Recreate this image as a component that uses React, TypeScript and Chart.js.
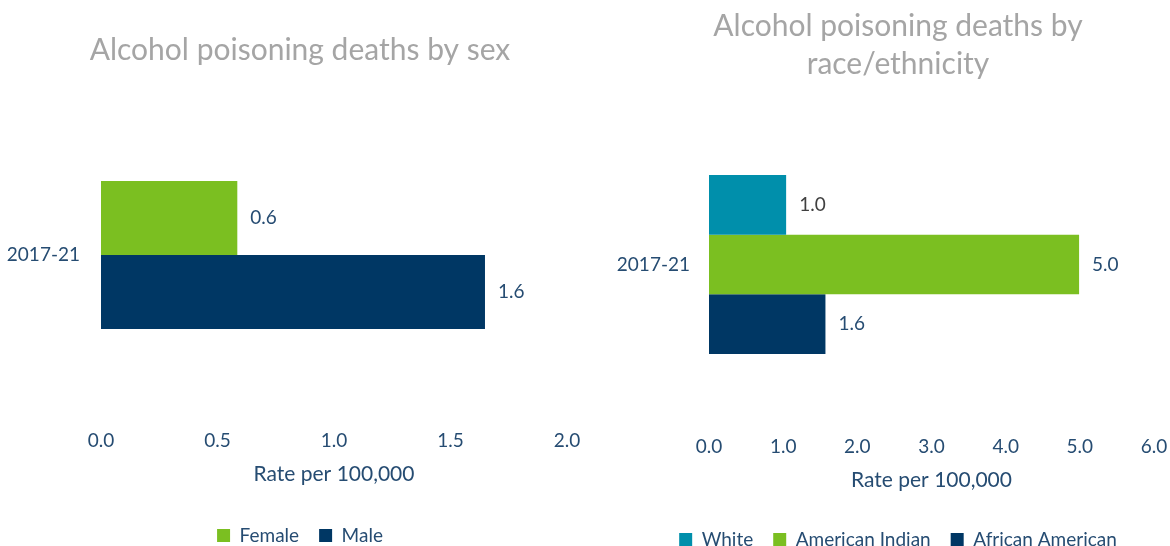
import React, { useEffect, useRef } from "react";
import { Chart, registerables } from "chart.js";

Chart.register(...registerables);

// ---- data ----
const periodLabels = ["2017-21"];

const sexSeries = ["Female", "Male"];
const sexValues = [0.585, 1.648];
const sexColors = ["#7BBF21", "#003764"];
const sexLabelColors = ["#264C72", "#264C72"];

const raceSeries = ["White", "American Indian", "African American"];
const raceValues = [1.04, 4.99, 1.57];
const raceColors = ["#008FAB", "#7BBF21", "#003764"];
const raceLabelColors = ["#404040", "#264C72", "#264C72"];

const sexAxisMax = 2;
const sexAxisStep = 0.5;
const raceAxisMax = 6;
const raceAxisStep = 1;

const sexTitle = "Alcohol poisoning deaths by sex";
const raceTitle = ["Alcohol poisoning deaths by", "race/ethnicity"];
const axisTitle = "Rate per 100,000";

// ---- styles ----
const FONT = "Lato, 'Open Sans', sans-serif";
const TEXT = "#264C72";
const TITLE_GRAY = "#A5A5A5";

const valueLabels = {
  id: "valueLabels",
  afterDatasetsDraw(chart: any, _args: any, opts: any) {
    const ctx = chart.ctx;
    chart.data.datasets.forEach((ds: any, i: number) => {
      const meta = chart.getDatasetMeta(i);
      meta.data.forEach((bar: any, j: number) => {
        const v = ds.data[j] as number;
        ctx.save();
        ctx.font = `${opts.size}px ${FONT}`;
        ctx.fillStyle = opts.colors[i];
        ctx.textAlign = "left";
        ctx.textBaseline = "middle";
        ctx.fillText(v.toFixed(1), bar.x + opts.offset, bar.y);
        ctx.restore();
      });
    });
  },
};

type Cfg = {
  title: string | string[];
  titleLineHeight: number;
  titlePad: { top: number; bottom: number };
  series: string[];
  values: number[];
  colors: string[];
  labelColors: string[];
  max: number;
  step: number;
  width: number;
  height: number;
  yWidth: number;
  y2Width: number;
  yPad: number;
  xHeight: number;
  xTitlePadBottom: number;
  catPct: number;
};

function BarPanel({ cfg, left }: { cfg: Cfg; left: number }) {
  const ref = useRef<HTMLCanvasElement | null>(null);
  useEffect(() => {
    if (!ref.current) return;
    const chart = new Chart(ref.current, {
      type: "bar",
      data: {
        labels: periodLabels,
        datasets: cfg.series.map((name, i) => ({
          label: name,
          data: [cfg.values[i]],
          backgroundColor: cfg.colors[i],
          borderWidth: 0,
          categoryPercentage: cfg.catPct,
          barPercentage: 1,
          xAxisID: "x",
          yAxisID: "y",
        })),
      },
      options: {
        indexAxis: "y",
        animation: false,
        responsive: false,
        events: [],
        layout: { padding: 0 },
        scales: {
          x: {
            min: 0,
            max: cfg.max,
            ticks: {
              stepSize: cfg.step,
              padding: 4,
              color: TEXT,
              font: { family: FONT, size: 19 },
              maxRotation: 0,
              autoSkip: false,
              callback: (v: any) => Number(v).toFixed(1),
            },
            grid: { display: false, drawTicks: false },
            border: { display: false },
            title: {
              display: true,
              text: axisTitle,
              color: TEXT,
              font: { family: FONT, size: 21 },
              padding: { top: 0, bottom: cfg.xTitlePadBottom },
            },
            afterFit: (s: any) => {
              s.height = cfg.xHeight;
            },
          },
          y: {
            position: "left",
            ticks: { padding: cfg.yPad, color: TEXT, font: { family: FONT, size: 19 } },
            grid: { display: false, drawTicks: false },
            border: { display: false },
            afterFit: (s: any) => {
              s.width = cfg.yWidth;
            },
          },
          yRight: {
            type: "category",
            position: "right",
            display: true,
            ticks: { display: false },
            grid: { display: false, drawTicks: false },
            border: { display: false },
            afterFit: (s: any) => {
              s.width = cfg.y2Width;
            },
          },
        } as any,
        plugins: {
          title: {
            display: true,
            text: cfg.title,
            color: TITLE_GRAY,
            font: { family: FONT, size: 30, weight: "normal", lineHeight: cfg.titleLineHeight },
            padding: cfg.titlePad,
          },
          legend: {
            position: "bottom",
            labels: {
              color: TEXT,
              font: { family: FONT, size: 19 },
              boxWidth: 13,
              boxHeight: 13,
              padding: 20,
            },
          },
          tooltip: { enabled: false },
          valueLabels: { size: 19, offset: 13, colors: cfg.labelColors },
        } as any,
      },
      plugins: [valueLabels],
    });
    return () => chart.destroy();
  }, [cfg]);
  return (
    <canvas
      ref={ref}
      width={cfg.width}
      height={cfg.height}
      style={{ position: "absolute", left, top: 0, display: "block" }}
    />
  );
}

const sexCfg: Cfg = {
  title: sexTitle,
  titleLineHeight: 1.2,
  titlePad: { top: 32, bottom: 17 },
  series: sexSeries,
  values: sexValues,
  colors: sexColors,
  labelColors: sexLabelColors,
  max: sexAxisMax,
  step: sexAxisStep,
  width: 600,
  height: 555,
  yWidth: 101,
  y2Width: 33,
  yPad: 21,
  xHeight: 81,
  xTitlePadBottom: 19.4,
  catPct: 0.435,
};

const raceCfg: Cfg = {
  title: raceTitle,
  titleLineHeight: 1.27,
  titlePad: { top: 7, bottom: 14.8 },
  series: raceSeries,
  values: raceValues,
  colors: raceColors,
  labelColors: raceLabelColors,
  max: raceAxisMax,
  step: raceAxisStep,
  width: 596,
  height: 559,
  yWidth: 109,
  y2Width: 42,
  yPad: 19,
  xHeight: 79,
  xTitlePadBottom: 17.4,
  catPct: 0.5375,
};

export default function App() {
  return (
    <div
      style={{
        position: "fixed",
        left: 0,
        top: 0,
        width: 1170,
        height: 546,
        overflow: "hidden",
        background: "#ffffff",
      }}
    >
      <BarPanel cfg={sexCfg} left={0} />
      <BarPanel cfg={raceCfg} left={600} />
    </div>
  );
}
